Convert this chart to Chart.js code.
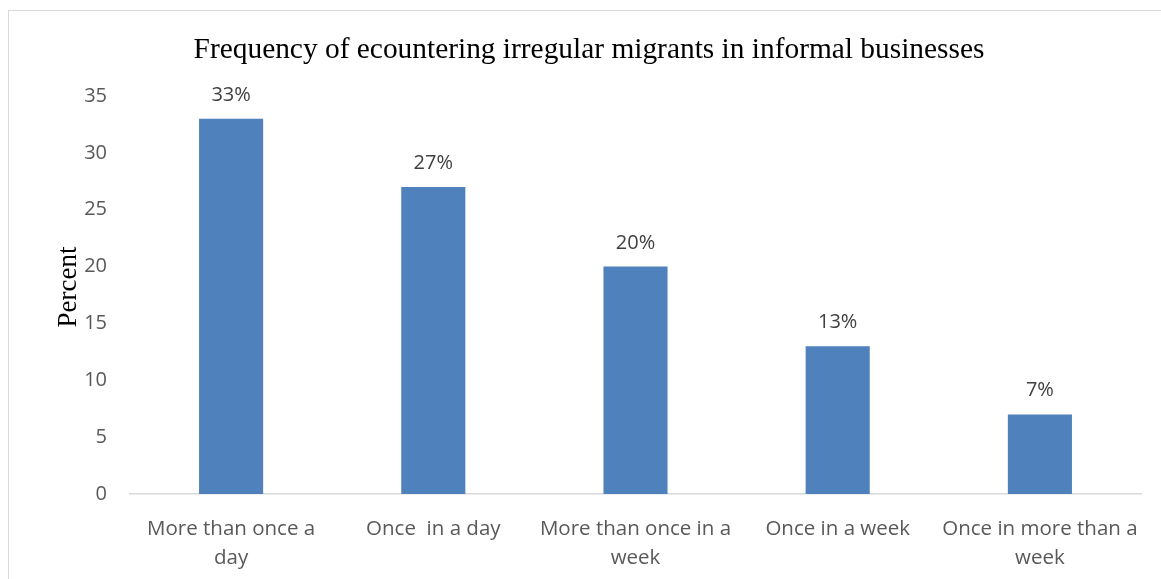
<!DOCTYPE html>
<html>
<head>
<meta charset="utf-8">
<script src="https://cdn.jsdelivr.net/npm/chart.js@4.4.1/dist/chart.umd.min.js"></script>
<style>
  html, body { margin: 0; padding: 0; background: #ffffff; overflow: hidden; }
  #wrap { position: relative; width: 1161px; height: 579px; }
  #frame {
    position: absolute; left: 8px; top: 10px; width: 1200px; height: 620px;
    border-left: 1.5px solid #d9d9d9; border-top: 1.5px solid #d9d9d9;
    box-sizing: border-box; pointer-events: none;
  }
  canvas { position: absolute; left: 0; top: 0; }
</style>
</head>
<body>
<div id="wrap">
  <canvas id="chart" width="1161" height="579"></canvas>
  <div id="frame"></div>
</div>
<script>
// Survey responses: how often irregular migrants are encountered in informal businesses
const categories = [
  ['More than once a', 'day'],
  ['Once  in a day'],
  ['More than once in a', 'week'],
  ['Once in a week'],
  ['Once in more than a', 'week']
];
const percentValues = [33, 27, 20, 13, 7];
const yTicks = [0, 5, 10, 15, 20, 25, 30, 35];

const chartTitle = 'Frequency of ecountering irregular migrants in informal businesses';
const yAxisTitle = 'Percent';

const SANS = '"Open Sans", "Noto Sans", sans-serif';
const SERIF = '"Liberation Serif", "DejaVu Serif", serif';

// Title, y-axis caption and value labels above each bar
const annotations = {
  id: 'annotations',
  afterDatasetsDraw(chart) {
    const { ctx } = chart;
    ctx.save();
    ctx.fillStyle = '#000000';
    ctx.font = '29.4px ' + SERIF;
    ctx.textAlign = 'center';
    ctx.textBaseline = 'alphabetic';
    ctx.fillText(chartTitle, 589, 58);

    ctx.save();
    ctx.translate(76, 287);
    ctx.rotate(-Math.PI / 2);
    ctx.font = '27px ' + SERIF;
    ctx.fillText(yAxisTitle, 0, 0);
    ctx.restore();

    const meta = chart.getDatasetMeta(0);
    ctx.font = '20px ' + SANS;
    ctx.fillStyle = '#404040';
    meta.data.forEach((bar, i) => {
      ctx.fillText(percentValues[i] + '%', bar.x, bar.y - 18);
    });
    ctx.restore();
  }
};

new Chart(document.getElementById('chart'), {
  type: 'bar',
  data: {
    labels: categories,
    datasets: [{
      data: percentValues,
      backgroundColor: '#4f81bd',
      borderWidth: 0,
      barPercentage: 0.317,
      categoryPercentage: 1.0
    }]
  },
  options: {
    responsive: false,
    animation: false,
    layout: { padding: { left: 0, right: 20, top: 96, bottom: 0 } },
    plugins: {
      legend: { display: false },
      title: { display: false },
      tooltip: { enabled: false }
    },
    scales: {
      x: {
        grid: { display: false },
        border: { display: true, color: '#d9d9d9', width: 1.5 },
        ticks: {
          color: '#595959',
          font: { family: SANS, size: 20.5, lineHeight: 1.4 },
          padding: 13,
          maxRotation: 0,
          minRotation: 0,
          autoSkip: false
        },
        afterFit(scale) { scale.height = 85; }
      },
      y: {
        min: 0,
        max: 35,
        grid: { display: false },
        border: { display: false },
        afterBuildTicks(scale) { scale.ticks = yTicks.map(v => ({ value: v })); },
        ticks: {
          color: '#595959',
          font: { family: SANS, size: 20 },
          padding: 15
        },
        afterFit(scale) { scale.width = 130; }
      }
    }
  },
  plugins: [annotations]
});
</script>
</body>
</html>
